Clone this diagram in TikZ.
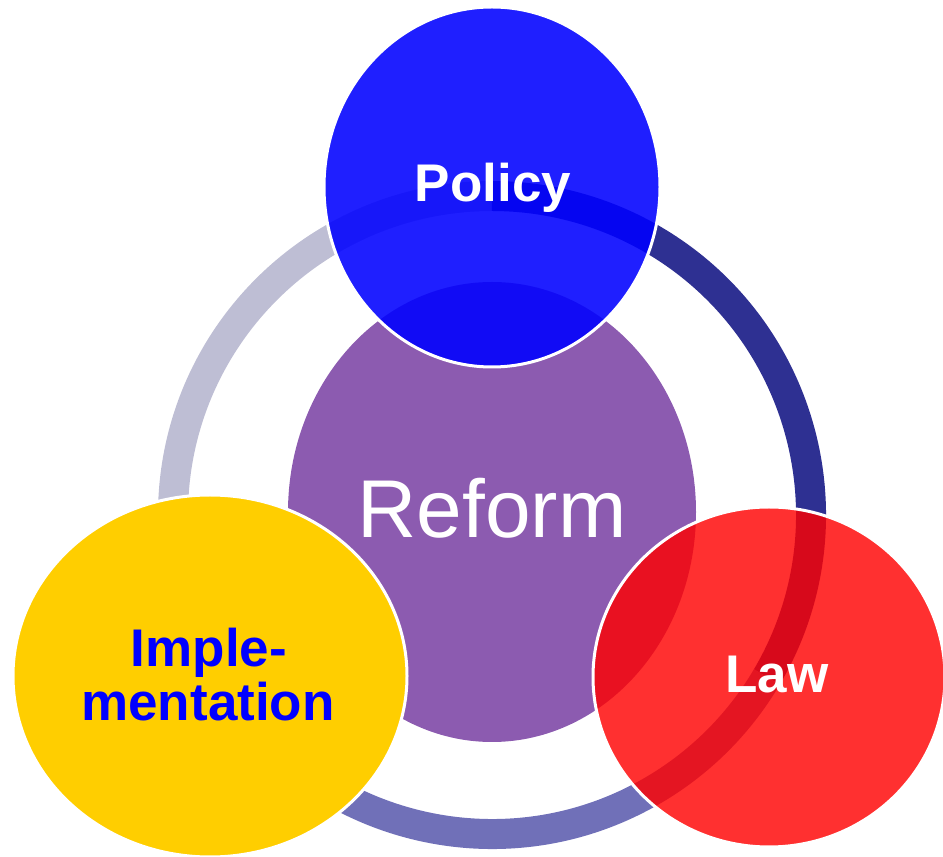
\documentclass[tikz,border=0pt]{standalone}
\usepackage{fontspec}
\setmainfont{Liberation Sans}
\definecolor{ringgray}{HTML}{BEBED4}
\definecolor{ringnavy}{HTML}{2E3092}
\definecolor{ringblue}{HTML}{7070B8}
\definecolor{reformpurple}{HTML}{8C5BB0}
\definecolor{implyellow}{HTML}{FFCE00}
\definecolor{policyblue}{HTML}{0000FF}
\definecolor{lawred}{HTML}{FF0000}
\tikzset{
  ringseg/.style={line width=30pt, line cap=butt},
  bubble/.style={draw=white, line width=3pt},
  bigtext/.style={font=\fontsize{53}{60}\selectfont\bfseries, inner sep=0pt, anchor=base},
}
\begin{document}
\begin{tikzpicture}[x=1pt,y=1pt]
\useasboundingbox (0,0) rectangle (943,857);
\clip (0,0) rectangle (943,857);
% ring centre
\coordinate (rc) at (492,342);
% ring segments
\draw[ringseg, ringgray] ([shift={(90:319)}]rc) arc[start angle=90, end angle=209.7, radius=319];
\draw[ringseg, ringnavy] ([shift={(-30.5:319)}]rc) arc[start angle=-30.5, end angle=90, radius=319];
\draw[ringseg, ringblue] ([shift={(209.7:319)}]rc) arc[start angle=209.7, end angle=329.5, radius=319];
% central circle
\fill[reformpurple] (492,345) ellipse[x radius=204, y radius=230];
\node[font=\fontsize{82}{90}\selectfont, text=white, inner sep=0pt, anchor=base] (reform) at (492,319) {Reform};
% implementation
\path[bubble, fill=implyellow] (210,181) ellipse[x radius=197, y radius=181];
\node[bigtext, text=policyblue] (impla) at (209,190) {Imple-};
\node[bigtext, text=policyblue] (implb) at (208,136) {mentation};
% law
\path[bubble, fill=lawred, fill opacity=0.81] (769,180) ellipse[x radius=176, y radius=170];
\node[bigtext, text=white] (law) at (777,164) {Law};
% policy
\path[bubble, fill=policyblue, fill opacity=0.88] (492,670) ellipse[x radius=168, y radius=180];
\node[bigtext, text=white] (policy) at (493,655) {Policy};
\end{tikzpicture}
\end{document}
